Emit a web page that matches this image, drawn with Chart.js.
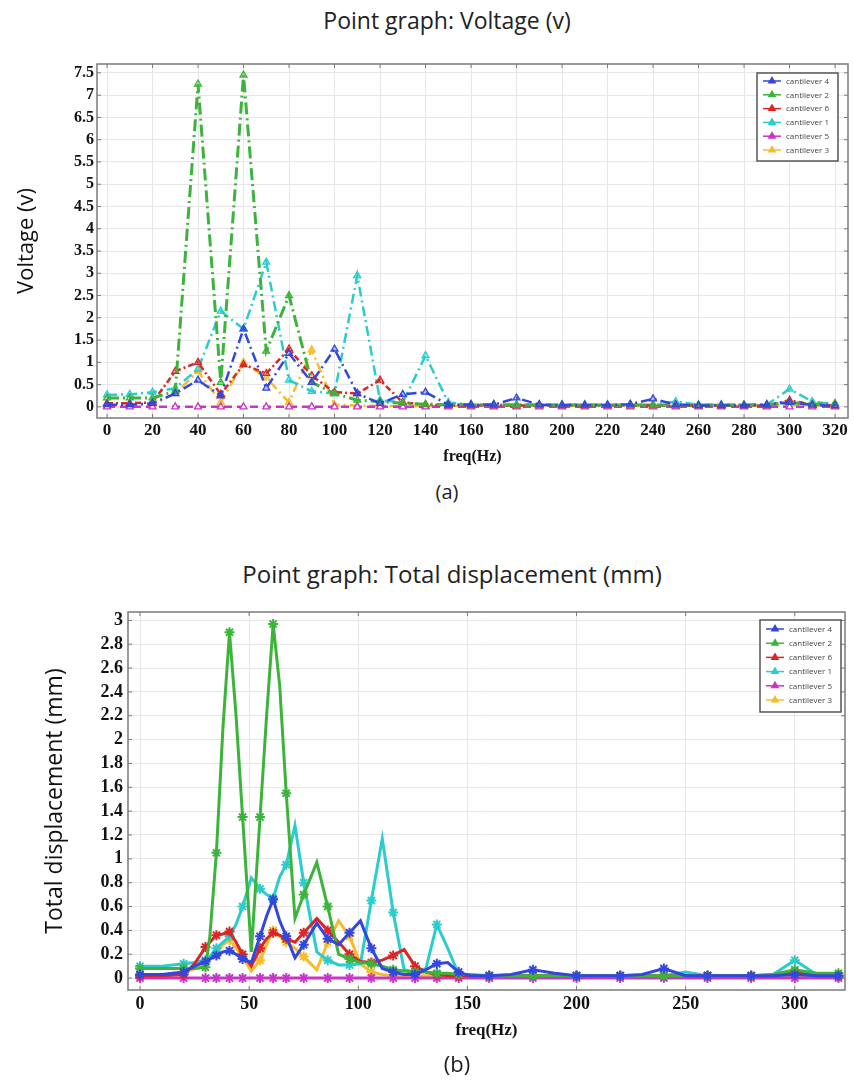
<!DOCTYPE html>
<html>
<head>
<meta charset="utf-8">
<script src="https://cdn.jsdelivr.net/npm/chart.js@4.4.1/dist/chart.umd.min.js"></script>
<style>
  body { margin: 0; background: #fff; width: 854px; height: 1081px; position: relative; overflow: hidden; }
  .title { position: absolute; left: 0; width: 894px; text-align: center; font-family: "Open Sans", sans-serif; color: #222; }
  .cap { position: absolute; text-align: center; font-family: "Open Sans", sans-serif; color: #222; }
  canvas { position: absolute; left: 0; }
</style>
</head>
<body>
<div class="title" style="top:4px;font-size:23px;">Point graph: Voltage (v)</div>
<canvas id="chartA" width="854" height="470" style="top:0px"></canvas>
<div class="cap" style="left:417px;top:478px;width:60px;font-size:20px;">(a)</div>

<div class="title" style="top:557px;font-size:24px;width:904px;">Point graph: Total displacement (mm)</div>
<canvas id="chartB" width="854" height="510" style="top:540px"></canvas>
<div class="cap" style="left:427px;top:1048px;width:60px;font-size:22px;">(b)</div>

<script>
// ---- (a) voltage, one point every 10 Hz ----
const freqA = [0,10,20,30,40,50,60,70,80,90,100,110,120,130,140,150,160,170,180,190,200,210,220,230,240,250,260,270,280,290,300,310,320];
const voltC4 = [0.05,0.05,0.08,0.3,0.6,0.25,1.75,0.42,1.2,0.55,1.3,0.3,0.08,0.28,0.33,0.05,0.05,0.05,0.2,0.05,0.04,0.04,0.04,0.06,0.18,0.05,0.03,0.03,0.03,0.05,0.1,0.04,0.03];
const voltC2 = [0.2,0.2,0.2,0.35,7.25,0.55,7.45,1.25,2.5,0.55,0.3,0.15,0.12,0.08,0.06,0.05,0.05,0.05,0.04,0.04,0.04,0.04,0.04,0.04,0.04,0.04,0.04,0.04,0.04,0.05,0.1,0.06,0.08];
const voltC6 = [0.08,0.08,0.1,0.8,1.0,0.28,0.95,0.75,1.3,0.7,0.33,0.3,0.6,0.1,0.05,0.03,0.03,0.03,0.03,0.03,0.03,0.03,0.03,0.03,0.03,0.03,0.03,0.03,0.03,0.03,0.15,0.05,0.03];
const voltC1 = [0.27,0.28,0.33,0.42,0.85,2.15,1.75,3.25,0.6,0.35,0.3,2.95,0.15,0.1,1.15,0.1,0.05,0.05,0.05,0.05,0.05,0.05,0.05,0.05,0.05,0.12,0.05,0.05,0.05,0.05,0.4,0.12,0.05];
const voltC5 = [0,0,0,0,0,0,0,0,0,0,0,0,0,0,0,0,0,0,0,0,0,0,0,0,0,0,0,0,0,0,0,0,0];
const voltC3 = [0.02,0.03,0.05,0.3,0.8,0.1,1.0,0.65,0.1,1.28,0.05,0.03,0.02,0.02,0.02,0.02,0.02,0.02,0.02,0.02,0.02,0.02,0.02,0.02,0.02,0.02,0.02,0.02,0.02,0.02,0.05,0.02,0.02];

// ---- (b) displacement ----
const freqB = [0,10,20,25,30,32,35,38,41,44,47,51,55,58,61,64,67,71,75,81,86,91,96,101,106,111,116,121,126,131,136,141,146,151,160,170,180,190,200,210,220,230,240,250,260,270,280,290,300,310,320];
const dispC4 = [0.03,0.03,0.05,0.1,0.14,0.16,0.19,0.22,0.23,0.2,0.16,0.13,0.35,0.52,0.66,0.48,0.35,0.17,0.28,0.46,0.33,0.28,0.38,0.48,0.25,0.08,0.05,0.03,0.03,0.07,0.12,0.13,0.05,0.02,0.02,0.03,0.07,0.04,0.02,0.02,0.02,0.03,0.08,0.02,0.02,0.02,0.02,0.02,0.03,0.02,0.02];
const dispC2 = [0.08,0.08,0.08,0.08,0.09,0.35,1.05,2.1,2.9,2.2,1.35,0.22,1.35,2.2,2.97,2.45,1.55,0.5,0.7,0.97,0.6,0.2,0.16,0.13,0.12,0.1,0.07,0.06,0.05,0.05,0.04,0.04,0.03,0.03,0.02,0.02,0.02,0.02,0.02,0.02,0.02,0.02,0.02,0.02,0.02,0.02,0.02,0.03,0.07,0.04,0.04];
const dispC6 = [0.02,0.02,0.03,0.12,0.26,0.3,0.36,0.37,0.39,0.3,0.2,0.1,0.25,0.33,0.38,0.36,0.33,0.3,0.38,0.5,0.4,0.3,0.2,0.14,0.13,0.15,0.19,0.24,0.1,0.05,0.03,0.02,0.02,0.02,0.02,0.02,0.02,0.02,0.02,0.02,0.02,0.02,0.02,0.02,0.02,0.02,0.02,0.02,0.05,0.02,0.02];
const dispC1 = [0.1,0.1,0.12,0.13,0.15,0.18,0.25,0.3,0.35,0.45,0.6,0.84,0.75,0.7,0.67,0.85,0.95,1.28,0.8,0.22,0.15,0.11,0.11,0.12,0.65,1.17,0.55,0.07,0.05,0.08,0.45,0.25,0.03,0.02,0.02,0.02,0.02,0.02,0.02,0.02,0.02,0.02,0.02,0.05,0.02,0.02,0.02,0.03,0.15,0.03,0.02];
const dispC5 = [0,0,0,0,0,0,0,0,0,0,0,0,0,0,0,0,0,0,0,0,0,0,0,0,0,0,0,0,0,0,0,0,0,0,0,0,0,0,0,0,0,0,0,0,0,0,0,0,0,0,0];
const dispC3 = [0.02,0.02,0.04,0.08,0.12,0.15,0.2,0.28,0.32,0.25,0.18,0.06,0.15,0.28,0.4,0.35,0.3,0.25,0.18,0.07,0.3,0.48,0.35,0.12,0.05,0.03,0.02,0.02,0.02,0.02,0.02,0.02,0.02,0.02,0.02,0.02,0.02,0.02,0.02,0.02,0.02,0.02,0.02,0.02,0.02,0.02,0.02,0.02,0.02,0.01,0.01];

const names = ["cantilever 4","cantilever 2","cantilever 6","cantilever 1","cantilever 5","cantilever 3"];
const colors = ["#3347de","#3cb43c","#d92626","#2ccccc","#c934c9","#f7bc2a"];
const dashesA = [[10,4,2,4],[12,4,2,4],[6,3,2,3],[10,4,2,4],[8,5],[10,4,2,4]];

function pts(xs, ys) { return xs.map((x, i) => ({x: x, y: ys[i]})); }
// 7.0 -> "7", 0.50 -> "0.5"
const plainNum = v => String(Number(v.toFixed(2)));

// box legend drawn inside the plot, COMSOL style
const boxLegend = {
  id: 'boxLegend',
  afterDraw(chart, args, o) {
    const ctx = chart.ctx;
    ctx.save();
    ctx.fillStyle = '#fff';
    ctx.fillRect(o.x, o.y, o.w, o.h);
    ctx.strokeStyle = '#555';
    ctx.lineWidth = 1.5;
    ctx.strokeRect(o.x, o.y, o.w, o.h);
    chart.data.datasets.forEach((ds, i) => {
      const cy = o.y + o.first + i * o.rowH;
      ctx.strokeStyle = ds.borderColor;
      ctx.lineWidth = 1.5;
      ctx.setLineDash([]);
      ctx.beginPath();
      ctx.moveTo(o.x + 6, cy);
      ctx.lineTo(o.x + 24, cy);
      ctx.stroke();
      ctx.fillStyle = ds.borderColor;
      Chart.helpers.drawPoint(ctx, {pointStyle: 'triangle', radius: 3.5, borderWidth: 1}, o.x + 15, cy);
      ctx.fill();
      ctx.fillStyle = '#444';
      ctx.font = '8px "Open Sans", sans-serif';
      ctx.textBaseline = 'middle';
      ctx.fillText(ds.label, o.x + 29, cy + 0.5);
    });
    ctx.restore();
  }
};

// grey frame around plot plus small inward ticks
const frame = {
  id: 'frame',
  afterDatasetsDraw(chart) {
    const {ctx, chartArea: a, scales} = chart;
    ctx.save();
    ctx.strokeStyle = '#7a7a7a';
    ctx.lineWidth = 1.5;
    ctx.strokeRect(a.left, a.top, a.right - a.left, a.bottom - a.top);
    ctx.lineWidth = 1;
    scales.x.ticks.forEach(t => {
      const px = scales.x.getPixelForValue(t.value);
      ctx.beginPath(); ctx.moveTo(px, a.top); ctx.lineTo(px, a.top + 4);
      ctx.moveTo(px, a.bottom); ctx.lineTo(px, a.bottom - 4); ctx.stroke();
    });
    scales.y.ticks.forEach(t => {
      const py = scales.y.getPixelForValue(t.value);
      ctx.beginPath(); ctx.moveTo(a.right, py); ctx.lineTo(a.right - 4, py);
      ctx.moveTo(a.left, py); ctx.lineTo(a.left + 4, py); ctx.stroke();
    });
    ctx.restore();
  }
};

const tickFont = (s) => ({family: '"Liberation Serif", serif', size: s, weight: 'bold'});

// ---------- chart (a) ----------
const seriesA = [voltC4, voltC2, voltC6, voltC1, voltC5, voltC3];
new Chart(document.getElementById('chartA'), {
  type: 'line',
  data: {
    datasets: seriesA.map((ys, i) => ({
      label: names[i],
      data: pts(freqA, ys),
      borderColor: colors[i],
      backgroundColor: colors[i],
      borderWidth: i === 1 ? 3 : 2.5,
      borderDash: dashesA[i],
      pointStyle: 'triangle',
      pointRadius: 4,
      pointBorderWidth: 1.3,
      pointBackgroundColor: i === 4 ? '#fff' : colors[i] + '55',
      tension: 0
    }))
  },
  options: {
    responsive: false,
    animation: false,
    layout: {padding: {left: 0, right: 6, top: 64, bottom: 0}, autoPadding: false},
    plugins: {
      legend: {display: false},
      tooltip: {enabled: false},
      boxLegend: {x: 757, y: 73, w: 81, h: 88, first: 8, rowH: 13.8}
    },
    scales: {
      x: {
        type: 'linear', min: -4.4, max: 325.7,
        afterFit: s => { s.height = 52; },
        ticks: {stepSize: 20, includeBounds: false, padding: 2, color: '#111', font: tickFont(17), maxRotation: 0, callback: plainNum},
        grid: {color: '#e6e6e6', drawTicks: false},
        border: {display: false},
        title: {display: true, text: 'freq(Hz)', color: '#111', font: tickFont(16), padding: {top: 0, bottom: 4}}
      },
      y: {
        type: 'linear', min: -0.25, max: 7.7,
        afterFit: s => { s.width = 97; },
        ticks: {stepSize: 0.5, includeBounds: false, padding: 3, color: '#111', font: tickFont(16), callback: plainNum},
        grid: {color: '#e6e6e6', drawTicks: false},
        border: {display: false},
        title: {display: true, text: 'Voltage (v)', color: '#111', font: {family: '"Open Sans", sans-serif', size: 22}, padding: {top: 14, bottom: 0}}
      }
    }
  },
  plugins: [frame, boxLegend]
});

// ---------- chart (b) ----------
const seriesB = [dispC4, dispC2, dispC6, dispC1, dispC5, dispC3];
new Chart(document.getElementById('chartB'), {
  type: 'line',
  data: {
    datasets: seriesB.map((ys, i) => ({
      label: names[i],
      data: pts(freqB, ys),
      borderColor: colors[i],
      backgroundColor: colors[i],
      borderWidth: 3,
      pointStyle: 'star',
      pointRadius: c => (c.dataIndex % 2 === 0 ? 5 : 0),
      pointBorderWidth: 2,
      tension: 0
    }))
  },
  options: {
    responsive: false,
    animation: false,
    layout: {padding: {left: 0, right: 9, top: 72, bottom: 0}, autoPadding: false},
    plugins: {
      legend: {display: false},
      tooltip: {enabled: false},
      boxLegend: {x: 760, y: 80, w: 81, h: 92, first: 9, rowH: 14.2}
    },
    scales: {
      x: {
        type: 'linear', min: -5.5, max: 323,
        afterFit: s => { s.height = 60; },
        ticks: {stepSize: 50, includeBounds: false, padding: 4, color: '#111', font: tickFont(18), maxRotation: 0, callback: plainNum},
        grid: {color: '#e6e6e6', drawTicks: false},
        border: {display: false},
        title: {display: true, text: 'freq(Hz)', color: '#111', font: tickFont(17), padding: {top: 0, bottom: 9}}
      },
      y: {
        type: 'linear', min: -0.1, max: 3.07,
        afterFit: s => { s.width = 128; },
        ticks: {stepSize: 0.2, includeBounds: false, padding: 5, color: '#111', font: tickFont(18), callback: plainNum},
        grid: {color: '#e6e6e6', drawTicks: false},
        border: {display: false},
        title: {display: true, text: 'Total displacement (mm)', color: '#111', font: {family: '"Open Sans", sans-serif', size: 23}, padding: {top: 42, bottom: 0}}
      }
    }
  },
  plugins: [frame, boxLegend]
});
</script>
</body>
</html>
